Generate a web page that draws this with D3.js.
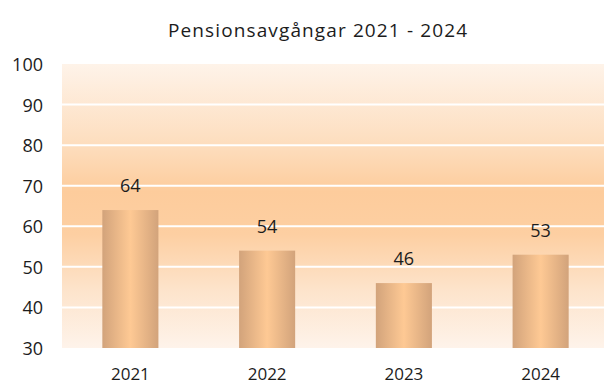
<!DOCTYPE html>
<html>
<head>
<meta charset="utf-8">
<script src="https://cdn.jsdelivr.net/npm/d3@7"></script>
<style>
  html, body { margin: 0; padding: 0; background: #ffffff; }
  svg { display: block; }
  text { font-family: "Open Sans", Lato, "Noto Sans", sans-serif; }
</style>
</head>
<body>
<svg id="chart" width="604" height="385"></svg>
<script>
// Retirement counts per year
const years = ["2021", "2022", "2023", "2024"];
const retirements = [64, 54, 46, 53];
const yTicks = [30, 40, 50, 60, 70, 80, 90, 100];
const title = "Pensionsavgångar 2021 - 2024";

const svg = d3.select("#chart");
const margin = { left: 62, top: 64, width: 547, height: 284 };
const font = "'Open Sans', Lato, sans-serif";
const ink = "#1c1c1c";

const x = d3.scaleBand()
  .domain(years)
  .range([margin.left, margin.left + margin.width])
  .paddingInner(0.59)
  .paddingOuter(0.295);

const y = d3.scaleLinear()
  .domain([30, 100])
  .range([margin.top + margin.height, margin.top]);

const defs = svg.append("defs");

// Plot background: pale at top and bottom, warm peach in the middle band
const bg = defs.append("linearGradient")
  .attr("id", "bgGrad").attr("x1", 0).attr("y1", 0).attr("x2", 0).attr("y2", 1);
[[0, "#fef3e9"], [0.3, "#fddcbb"], [0.45, "#fdcc9c"], [0.6, "#fdcfa2"], [0.8, "#fde4cc"], [1, "#fef3ea"]]
  .forEach(([o, c]) => bg.append("stop").attr("offset", o).attr("stop-color", c));

// Bar fill: tan edges with a light peach centre
const barGrad = defs.append("linearGradient")
  .attr("id", "barGrad").attr("x1", 0).attr("y1", 0).attr("x2", 1).attr("y2", 0);
[[0, "#d2a37b"], [0.5, "#fec994"], [1, "#d2a37b"]]
  .forEach(([o, c]) => barGrad.append("stop").attr("offset", o).attr("stop-color", c));

svg.append("rect")
  .attr("x", margin.left).attr("y", margin.top)
  .attr("width", margin.width).attr("height", margin.height)
  .attr("fill", "url(#bgGrad)");

// Horizontal gridlines
svg.append("g")
  .selectAll("line")
  .data(yTicks.filter(t => t > 30 && t < 100))
  .join("line")
  .attr("x1", margin.left).attr("x2", margin.left + margin.width)
  .attr("y1", d => y(d)).attr("y2", d => y(d))
  .attr("stroke", "#ffffff").attr("stroke-width", 2);

// Y axis labels
const yAxis = d3.axisLeft(y).tickValues(yTicks).tickSize(0).tickPadding(0);
const gy = svg.append("g").attr("transform", `translate(${margin.left - 19},0)`).call(yAxis);
gy.select(".domain").remove();
gy.selectAll("text")
  .attr("font-family", font)
  .attr("font-size", 18).attr("fill", ink)
  .attr("dy", "0.36em");

// X axis labels, baseline kept clear of the bottom edge
const xAxis = d3.axisBottom(x).tickSize(0).tickPadding(0);
const gx = svg.append("g").attr("transform", `translate(0,${margin.top + margin.height + 32})`).call(xAxis);
gx.select(".domain").remove();
gx.selectAll("text")
  .attr("font-family", font)
  .attr("font-size", 17).attr("fill", ink)
  .attr("y", 0)
  .attr("dy", 0);

// Bars
svg.append("g")
  .selectAll("rect")
  .data(years.map((yr, i) => ({ yr, v: retirements[i] })))
  .join("rect")
  .attr("x", d => x(d.yr))
  .attr("y", d => y(d.v))
  .attr("width", x.bandwidth())
  .attr("height", d => y(30) - y(d.v))
  .attr("fill", "url(#barGrad)");

// Value labels
svg.append("g")
  .selectAll("text")
  .data(years.map((yr, i) => ({ yr, v: retirements[i] })))
  .join("text")
  .attr("x", d => x(d.yr) + x.bandwidth() / 2)
  .attr("y", d => y(d.v) - 18)
  .attr("text-anchor", "middle")
  .attr("font-family", font)
  .attr("font-size", 18)
  .attr("fill", ink)
  .text(d => d.v);

// Title
svg.append("text")
  .attr("x", 317.5).attr("y", 37)
  .attr("text-anchor", "middle")
  .attr("font-family", font)
  .attr("font-size", 19)
  .attr("fill", ink)
  .attr("textLength", 299)
  .attr("lengthAdjust", "spacing")
  .text(title);
</script>
</body>
</html>
